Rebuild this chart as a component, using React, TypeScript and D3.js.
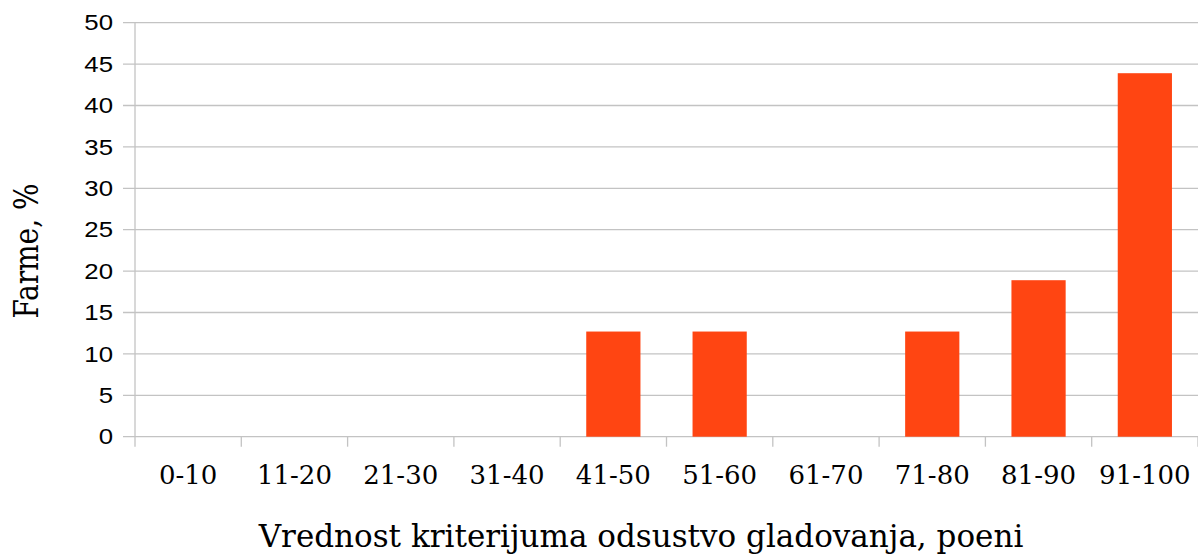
import React from "react";
import * as d3 from "d3";

const categories = ["0-10", "11-20", "21-30", "31-40", "41-50", "51-60", "61-70", "71-80", "81-90", "91-100"];
const values = [0, 0, 0, 0, 12.7, 12.7, 0, 12.7, 18.9, 43.9];
const yTicks = [0, 5, 10, 15, 20, 25, 30, 35, 40, 45, 50];
const yTitle = "Farme, %";
const xTitle = "Vrednost kriterijuma odsustvo gladovanja, poeni";

export default function App() {
  const W = 1198, H = 557;
  const left = 135, right = 1198, top = 22.7, bottom = 436.7;
  const x = d3.scaleBand<string>().domain(categories).range([left, right]).paddingInner(0).paddingOuter(0);
  const y = d3.scaleLinear().domain([0, 50]).range([bottom, top]);
  const bw = x.bandwidth() * 0.51;
  const grid = "#c3c3c3";
  return (
    <svg width={W} height={H} style={{ position: "absolute", left: 0, top: 0, background: "#fff" }}>
      {yTicks.map((t) => (
        <g key={t}>
          <line x1={left - 12} x2={right} y1={y(t)} y2={y(t)} stroke={grid} strokeWidth={1.3} />
          <text transform={`translate(113,${y(t)}) scale(1.2,1)`} dy="0.36em" textAnchor="end" fontFamily="Liberation Sans, Arial, sans-serif" fontSize={21.5} fill="#000">{t}</text>
        </g>
      ))}
      <line x1={left} x2={left} y1={top} y2={bottom + 10} stroke={grid} strokeWidth={1.3} />
      {categories.map((c, i) => (
        <line key={"t" + i} x1={x(c)! + x.bandwidth()} x2={x(c)! + x.bandwidth()} y1={bottom} y2={bottom + 10} stroke={grid} strokeWidth={1.3} />
      ))}
      {categories.map((c, i) =>
        values[i] > 0 ? (
          <rect key={"b" + i} x={x(c)! + (x.bandwidth() - bw) / 2} y={y(values[i])} width={bw} height={bottom - y(values[i])} fill="#ff4512" />
        ) : null
      )}
      {categories.map((c) => (
        <text key={"l" + c} x={x(c)! + x.bandwidth() / 2} y={484} textAnchor="middle" fontFamily="DejaVu Serif, Liberation Serif, serif" fontSize={26} fill="#000">{c}</text>
      ))}
      <text x={641} y={547} textAnchor="middle" fontFamily="DejaVu Serif, Liberation Serif, serif" fontSize={31} fill="#000">{xTitle}</text>
      <text transform={`translate(37.5,251) rotate(-90) scale(1,1.2)`} textAnchor="middle" fontFamily="DejaVu Serif, Liberation Serif, serif" fontSize={28} fill="#000">{yTitle}</text>
    </svg>
  );
}
